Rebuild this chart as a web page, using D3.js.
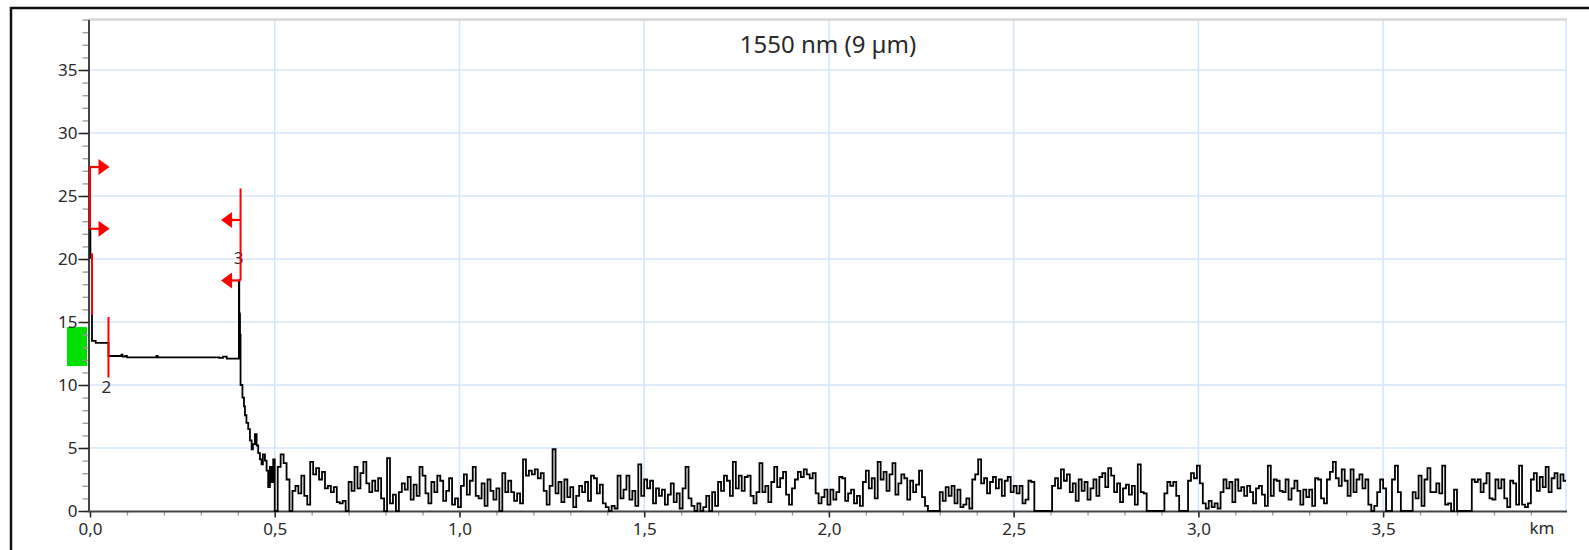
<!DOCTYPE html>
<html lang="en">
  <head>
    <meta charset="UTF-8">
    <script src="https://d3js.org/d3.v7.min.js"></script>
    <title>OTDR trace 1550 nm</title>
    <style>
      body { margin: 0; background: #fff; }
      svg text { font-family: "Noto Sans", sans-serif; fill: #2a2a2a; }
    </style>
    <script>
      // trace before the noise floor (km / dB)
      const frontKm = [0.000, 0.0010, 0.0054, 0.0155, 0.0500, 0.0850, 0.0880, 0.0950, 0.1000, 0.1800, 0.1830,
                       0.3500, 0.3600, 0.3700, 0.4030, 0.4040, 0.4050, 0.4055, 0.4060, 0.4065, 0.4075,
                       0.4126, 0.4167, 0.4194, 0.4234, 0.4283, 0.4329, 0.4375, 0.4410, 0.4464, 0.4510,
                       0.4553, 0.4600, 0.4645, 0.4680, 0.4734, 0.4780, 0.4823, 0.4870, 0.4915, 0.4959];
      const frontDb = [22.4, 20.1, 13.5, 13.35, 12.3, 12.4, 12.25, 12.3, 12.2, 12.3, 12.2,
                       12.15, 12.25, 12.1, 18.3, 15.7, 12.3, 15.6, 12.4, 14.0, 10.0,
                       9.0, 8.3, 7.6, 7.0, 6.5, 5.6, 4.9, 5.3, 6.1, 5.2,
                       4.6, 4.1, 3.7, 4.5, 4.0, 3.2, 1.9, 3.5, 2.3, 4.1];

      // noise floor, one sample every noiseStepKm from noiseStartKm
      const noiseStartKm = 0.5;
      const noiseStepKm = 0.008;
      const noiseDb = [
        0, 3.5, 4.5, 3.8, 2.5, 0, 1.6, 2.0, 1.4, 2.8, 1.2, 0.5, 3.9, 2.9, 3.4, 2.5, 3.1, 1.8, 2.0, 1.5,
        1.9, 0.7, 0.6, 0.8, 0, 2.3, 1.6, 3.5, 1.8, 3.0, 3.9, 2.2, 1.5, 2.4, 1.6, 2.6, 1.0, 0, 4.2, 0.6,
        1.3, 0, 1.5, 2.2, 1.7, 2.7, 0.9, 2.1, 1.2, 3.5, 2.8, 1.4, 0.6, 2.3, 1.5, 2.8, 2.4, 0.8, 1.6, 2.6,
        0.5, 1.0, 0.3, 2.0, 2.9, 1.3, 2.4, 3.5, 1.2, 1.0, 2.2, 0.4, 2.5, 1.6, 0.9, 1.8, 0, 3.0, 1.5, 2.4,
        1.5, 0.8, 1.4, 0.6, 4.1, 2.8, 3.2, 2.9, 3.3, 2.6, 3.0, 1.6, 0.5, 2.0, 4.9, 1.4, 2.3, 0.7, 2.5, 1.1,
        1.9, 0.3, 1.2, 2.0, 1.5, 2.3, 0.8, 2.8, 2.6, 1.4, 2.1, 0.6, 0.3, 0, 0.4, 0.2, 2.8, 1.0, 1.7, 2.8,
        0.9, 1.6, 0.4, 3.7, 1.2, 2.5, 1.8, 2.4, 0.6, 1.8, 1.2, 1.7, 0.5, 1.3, 2.2, 0.7, 1.4, 0.2, 1.8, 3.5,
        1.0, 0.4, 0, 0.6, 0, 0.3, 1.2, 0, 1.5, 0.4, 2.3, 1.6, 2.8, 2.4, 1.2, 3.9, 1.8, 2.8, 1.6, 2.7,
        2.8, 1.2, 0.6, 1.5, 3.8, 1.5, 2.0, 0.7, 2.3, 3.5, 1.9, 2.6, 3.1, 1.3, 0.5, 1.8, 2.5, 3.1, 2.7, 3.3,
        2.9, 2.6, 3.0, 1.4, 0.6, 1.1, 1.7, 0.5, 1.7, 0.9, 1.5, 2.7, 2.6, 0.8, 1.4, 1.7, 0.6, 1.2, 0.4, 2.3,
        3.2, 1.8, 2.6, 1.0, 3.9, 2.5, 3.1, 1.6, 2.9, 3.8, 1.3, 2.2, 2.9, 2.6, 0.9, 2.4, 1.5, 2.1, 3.2, 1.1,
        0.4, 0, 0, 0, 0, 1.5, 0.8, 1.9, 1.2, 2.0, 0.6, 1.7, 0.3, 0.5, 1.0, 0.2, 2.5, 2.9, 4.1, 2.2,
        2.6, 1.4, 2.3, 2.7, 1.8, 2.5, 1.2, 2.4, 2.7, 1.5, 2.0, 1.4, 2.0, 0.6, 0.9, 2.4, 2.3, 0, 0, 0,
        0, 0, 0, 2.0, 2.6, 1.8, 3.3, 2.4, 2.9, 1.5, 2.2, 0.8, 2.5, 1.6, 2.3, 0.9, 1.8, 2.5, 1.2, 2.7,
        3.0, 1.9, 3.4, 2.8, 1.5, 2.2, 0.7, 1.8, 2.1, 1.3, 2.0, 0.5, 3.7, 1.5, 1.4, 0, 0, 0, 0, 0,
        0, 1.4, 2.3, 2.0, 2.3, 1.2, 0, 0, 0, 2.4, 3.0, 2.6, 3.6, 2.2, 0.6, 0.2, 0.8, 0.3, 0.6, 0.2,
        1.5, 2.5, 1.8, 2.3, 0.7, 2.5, 1.6, 1.9, 1.2, 2.0, 1.5, 0.6, 1.8, 2.0, 1.3, 0.4, 3.6, 1.2, 2.5, 2.4,
        1.6, 1.5, 2.5, 0.9, 1.8, 2.4, 1.6, 0.5, 1.7, 1.1, 1.7, 0.4, 2.6, 2.5, 1.0, 0.6, 2.5, 3.1, 3.9, 2.6,
        2.0, 3.3, 2.4, 1.2, 3.3, 1.5, 2.5, 2.9, 1.8, 2.5, 0.5, 0, 0.4, 1.5, 2.5, 1.8, 0, 0, 2.5, 3.6,
        1.5, 0, 0, 0, 0, 1.5, 1.0, 2.8, 0.4, 2.5, 3.4, 1.5, 1.5, 2.2, 1.4, 3.6, 0.5, 0.6, 0, 1.7,
        0, 0, 0, 0, 0, 2.5, 2.3, 2.5, 1.5, 2.2, 3.0, 1.0, 0.9, 2.5, 1.8, 2.5, 1.0, 0.3, 2.4, 2.2,
        0.5, 3.6, 0.5, 0.3, 0.6, 2.5, 3.0, 1.6, 2.7, 1.9, 3.5, 1.5, 2.6, 3.0, 1.8, 2.9, 2.4
      ];

      // event markers
      const markerKm = [0.0, 0.0054, 0.050, 0.4075];
      const markerTopDb = [27.3, 20.45, 15.4, 25.6];
      const markerBottomDb = [22.4, 15.56, 10.6, 18.3];
      const markerLabel = ["", "", "2", "3"];
      const markerLabelDb = [null, null, 9.4, 19.6];
      const arrowKm = [0.0, 0.0, 0.4075, 0.4075];
      const arrowDb = [27.3, 22.4, 23.1, 18.3];
      const arrowDir = [1, 1, -1, -1];
      const bandDb = [11.5, 14.6];

      const xMajor = [0, 0.5, 1.0, 1.5, 2.0, 2.5, 3.0, 3.5];
      const xTickLabels = ["0,0", "0,5", "1,0", "1,5", "2,0", "2,5", "3,0", "3,5"];
      const yMajor = [0, 5, 10, 15, 20, 25, 30, 35];
      const title = "1550 nm (9 \u00b5m)";

      document.addEventListener('DOMContentLoaded', function() {
        const width = 1589;
        const height = 550;
        const left = 90, right = 1566, top = 19.6, bottom = 511;

        const xScale = d3.scaleLinear().domain([0, 3.995]).range([left, right]);
        const yScale = d3.scaleLinear().domain([0, 39]).range([bottom, top]);

        const svg = d3.select("#chart").append("svg")
                      .attr("width", width).attr("height", height);

        // outer frame
        svg.append("rect").attr("x", 11).attr("y", 8).attr("width", 1600).attr("height", 600)
           .attr("fill", "none").attr("stroke", "#111").attr("stroke-width", 2.5);

        // grid
        const grid = svg.append("g").attr("stroke", "#d6e6fa").attr("stroke-width", 1.6);
        grid.selectAll(".gx").data(xMajor.slice(1)).enter().append("line")
            .attr("x1", d => xScale(d)).attr("x2", d => xScale(d))
            .attr("y1", top).attr("y2", bottom);
        grid.selectAll(".gy").data(yMajor.slice(1)).enter().append("line")
            .attr("x1", left).attr("x2", right)
            .attr("y1", d => yScale(d)).attr("y2", d => yScale(d));
        grid.append("line").attr("x1", right).attr("x2", right).attr("y1", top).attr("y2", bottom);

        svg.append("line").attr("x1", 88).attr("x2", right + 1).attr("y1", top).attr("y2", top)
           .attr("stroke", "#d6d6d6").attr("stroke-width", 2.5);

        // green reference band left of the axis
        svg.append("rect").attr("x", 67).attr("width", 20)
           .attr("y", yScale(bandDb[1])).attr("height", yScale(bandDb[0]) - yScale(bandDb[1]))
           .attr("fill", "#00e000");

        // minor ticks
        const yMinor = d3.axisLeft(yScale).tickValues(d3.range(0, 40, 1)).tickSize(6).tickFormat("");
        svg.append("g").attr("transform", "translate(88.5,0)").call(yMinor)
           .call(g => g.select(".domain").remove())
           .call(g => g.selectAll("line").attr("stroke", "#999").attr("stroke-width", 1.3));
        const xMinor = d3.axisBottom(xScale).tickValues(d3.range(0, 4.0, 0.1)).tickSize(4).tickFormat("");
        svg.append("g").attr("transform", "translate(0," + (bottom + 0.5) + ")").call(xMinor)
           .call(g => g.select(".domain").remove())
           .call(g => g.selectAll("line").attr("stroke", "#999").attr("stroke-width", 1.3));

        // major axes
        const yAxis = d3.axisLeft(yScale).tickValues(yMajor).tickSize(10).tickSizeOuter(0).tickPadding(1);
        svg.append("g").attr("transform", "translate(88.5,0)").call(yAxis)
           .call(g => g.select(".domain").attr("stroke", "#444").attr("stroke-width", 2))
           .call(g => g.selectAll(".tick line").attr("stroke", "#222").attr("stroke-width", 1.5))
           .call(g => g.selectAll("text").attr("font-size", 17).attr("fill", "#2a2a2a")
                       .attr("font-family", "Noto Sans, sans-serif"));

        const xAxis = d3.axisBottom(xScale).tickValues(xMajor).tickSize(6).tickPadding(5)
                        .tickFormat((d, i) => xTickLabels[i]);
        svg.append("g").attr("transform", "translate(0," + (bottom + 0.5) + ")").call(xAxis)
           .call(g => g.select(".domain").remove())
           .call(g => g.selectAll(".tick line").attr("stroke", "#222").attr("stroke-width", 1.5))
           .call(g => g.selectAll("text").attr("font-size", 17).attr("fill", "#2a2a2a")
                       .attr("font-family", "Noto Sans, sans-serif"));
        svg.append("line").attr("x1", 87.5).attr("x2", right + 1)
           .attr("y1", bottom + 0.5).attr("y2", bottom + 0.5)
           .attr("stroke", "#444").attr("stroke-width", 2);

        svg.append("text").attr("x", 1542).attr("y", 534).attr("text-anchor", "middle")
           .attr("font-size", 17).text("km");

        // trace
        const points = d3.zip(frontKm, frontDb)
          .concat(noiseDb.map((v, i) => [noiseStartKm + i * noiseStepKm, v]));
        points.push([3.995, noiseDb[noiseDb.length - 1]]);
        const line = d3.line().x(d => xScale(d[0])).y(d => yScale(d[1])).curve(d3.curveStepAfter);
        svg.append("path").datum(points).attr("d", line)
           .attr("fill", "none").attr("stroke", "#000").attr("stroke-width", 1.8);

        // marker labels (under the red lines)
        svg.selectAll(".mlabel").data(markerLabel.map((t, i) => i).filter(i => markerLabel[i])).enter()
           .append("text").attr("x", i => xScale(markerKm[i]) - 2).attr("y", i => yScale(markerLabelDb[i]))
           .attr("text-anchor", "middle").attr("font-size", 17).text(i => markerLabel[i]);

        // red markers
        const red = "#ff0000";
        svg.selectAll(".mline").data(markerKm).enter().append("line")
           .attr("x1", d => xScale(d)).attr("x2", d => xScale(d))
           .attr("y1", (d, i) => yScale(markerTopDb[i])).attr("y2", (d, i) => yScale(markerBottomDb[i]))
           .attr("stroke", red).attr("stroke-width", 2);
        arrowKm.forEach((k, i) => {
          const x0 = xScale(k), y0 = yScale(arrowDb[i]), s = arrowDir[i];
          svg.append("line").attr("x1", x0).attr("x2", x0 + s * 9).attr("y1", y0).attr("y2", y0)
             .attr("stroke", red).attr("stroke-width", 2.2);
          svg.append("path")
             .attr("d", "M" + (x0 + s * 8.5) + "," + (y0 - 8) + "L" + (x0 + s * 19.5) + "," + y0 +
                        "L" + (x0 + s * 8.5) + "," + (y0 + 8) + "Z")
             .attr("fill", red);
        });

        svg.append("text").attr("x", 828).attr("y", 53).attr("text-anchor", "middle")
           .attr("font-size", 24).text(title);
      });
    </script>
  </head>
  <body>
    <div id="chart"></div>
  </body>
</html>
